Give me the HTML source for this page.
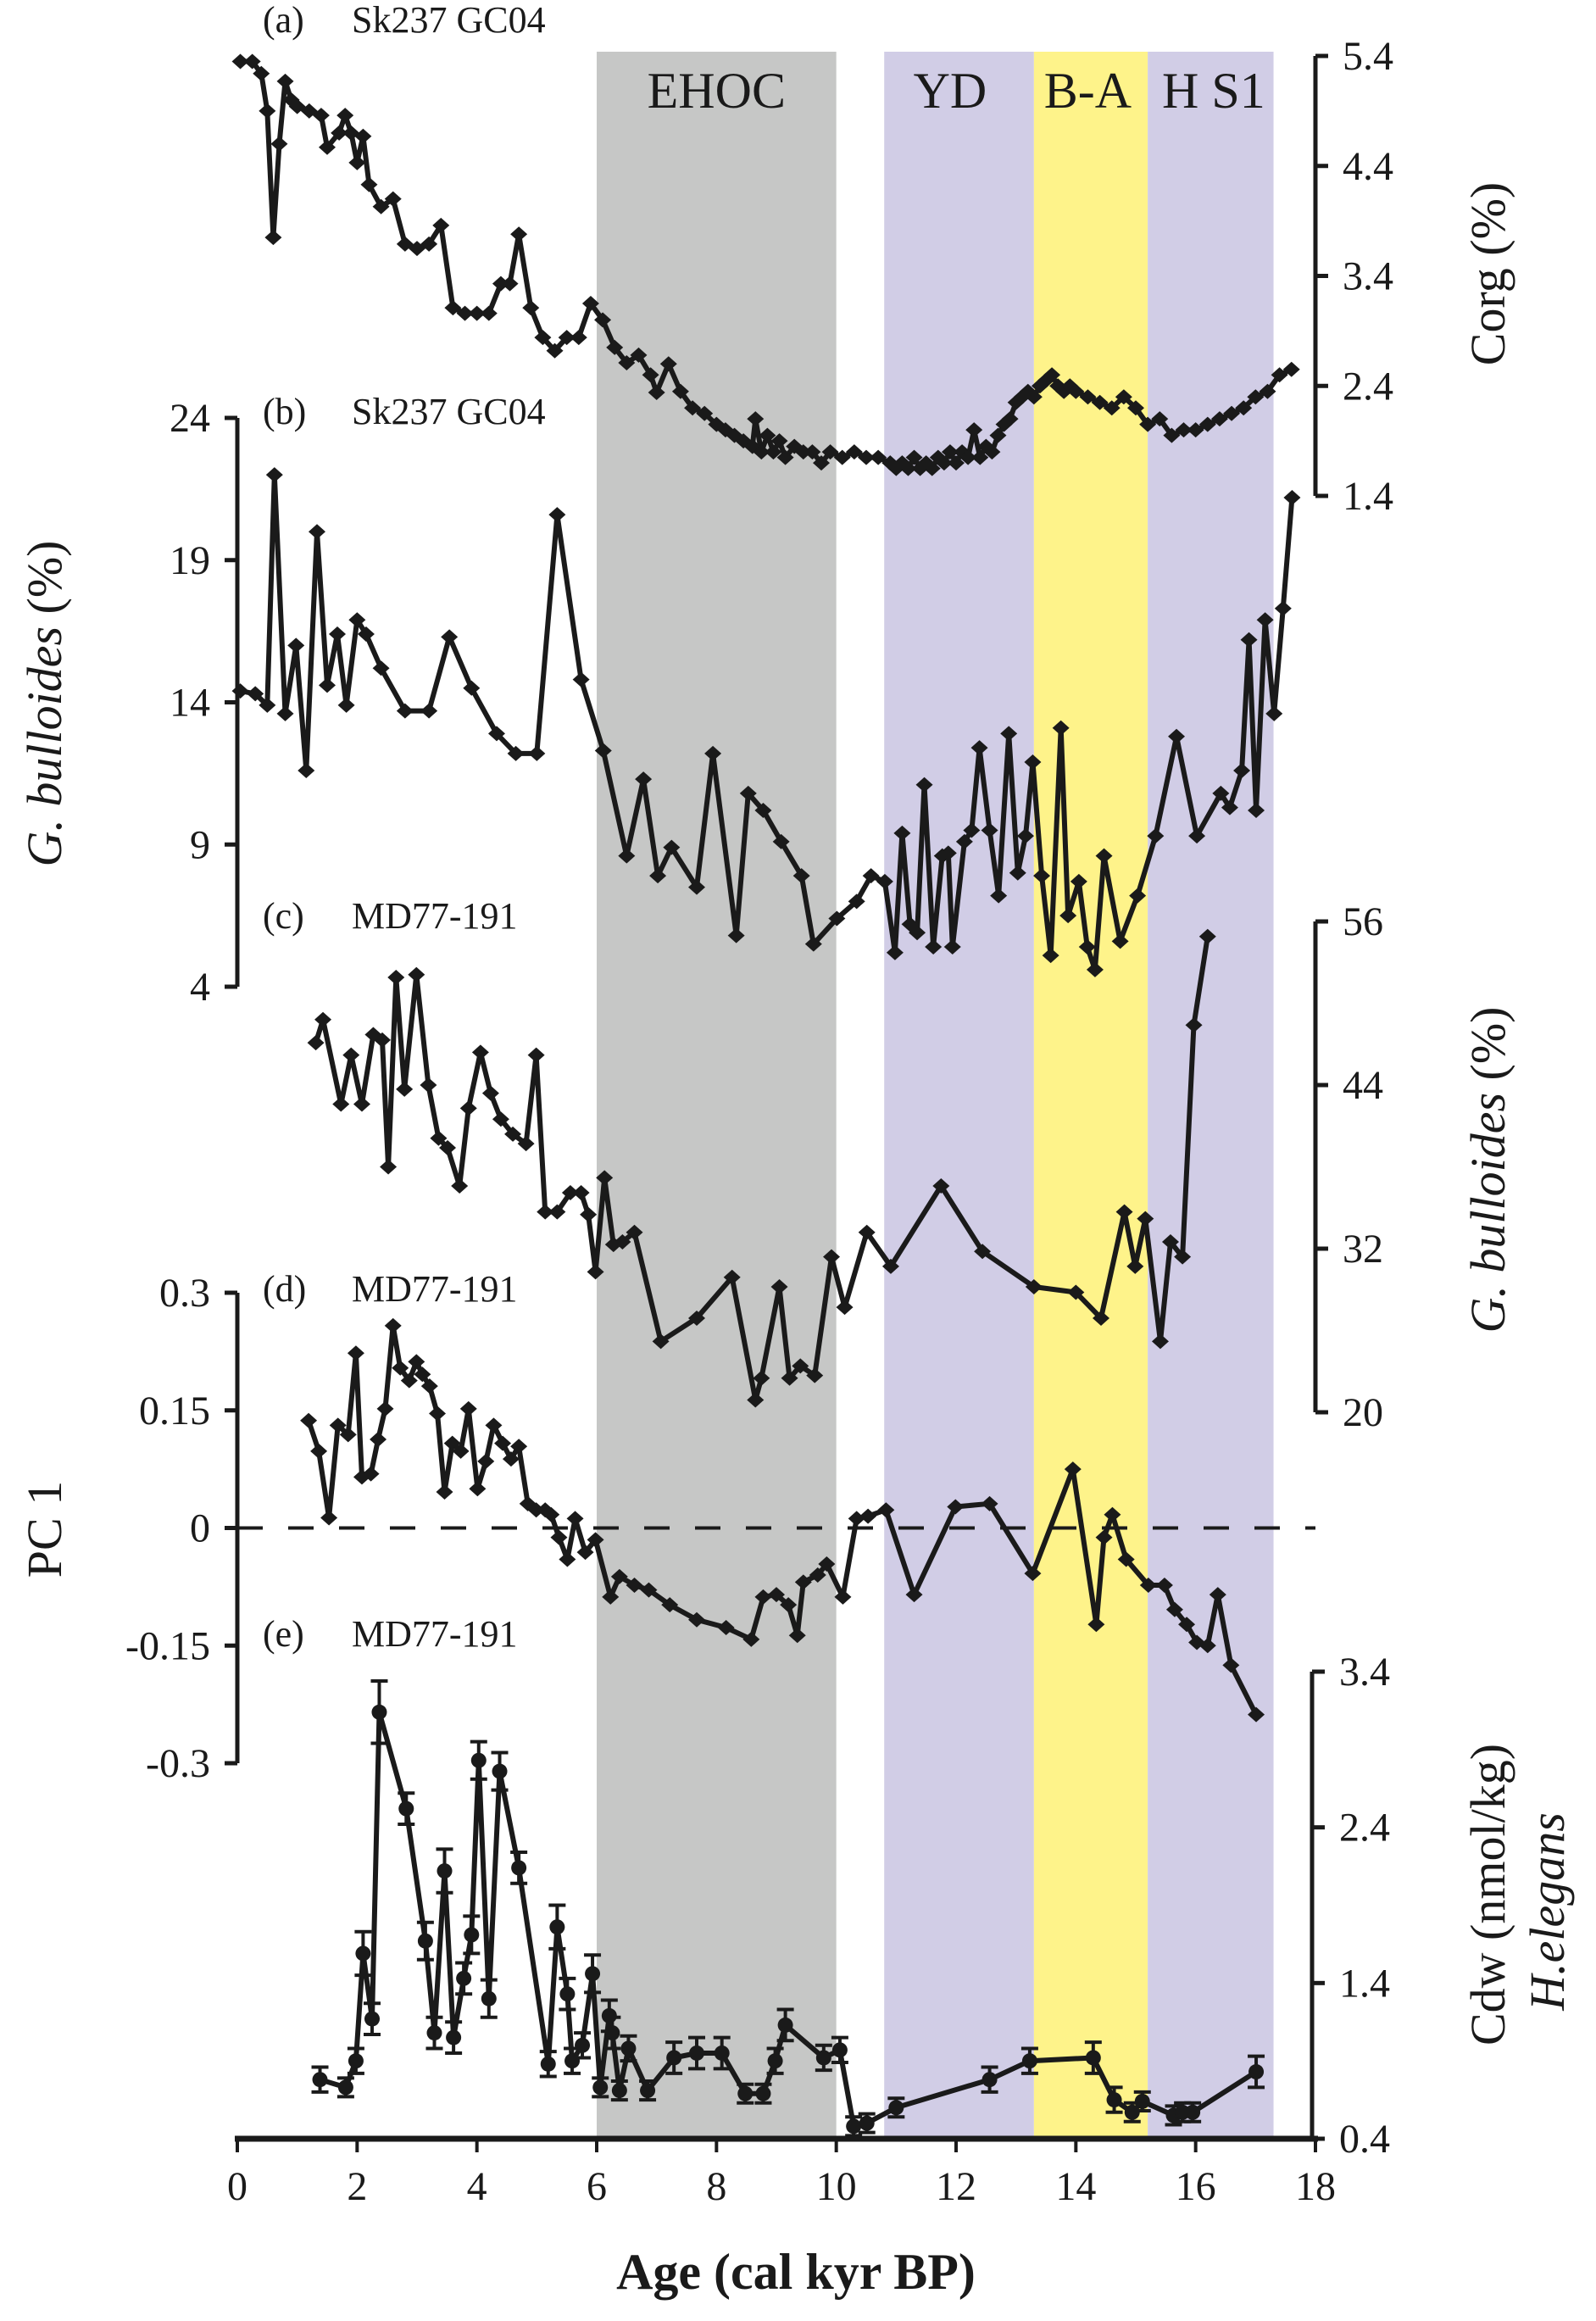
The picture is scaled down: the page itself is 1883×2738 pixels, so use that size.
<!DOCTYPE html>
<html><head><meta charset="utf-8"><style>
html,body{margin:0;padding:0;background:#fff;}
svg{display:block;font-family:"Liberation Serif","Times New Roman",serif;}
text{font-family:"Liberation Serif","Times New Roman",serif;}
</style></head><body>
<svg id="chart" width="1883" height="2738" viewBox="0 0 1883 2738" xmlns="http://www.w3.org/2000/svg" font-family="Liberation Serif, serif"></svg>
<script>
// ---- data ----
const xTicks = [0,2,4,6,8,10,12,14,16,18];
const bandNames = ["EHOC","YD","B-A","H S1"];
const bandStart = [6.0,10.8,13.3,15.2];
const bandEnd = [10.0,13.3,15.2,17.3];
const bandLabelAge = [8.0,11.9,14.2,16.3];

const corgTicks = [5.4,4.4,3.4,2.4,1.4];
const corgAge = [0.05,0.25,0.4,0.5,0.6,0.7,0.8,0.9,1.0,1.2,1.4,1.5,1.7,1.8,1.9,2.0,2.1,2.2,2.4,2.6,2.8,3.0,3.2,3.4,3.6,3.8,4.0,4.2,4.4,4.55,4.7,4.9,5.1,5.3,5.5,5.7,5.9,6.1,6.3,6.5,6.7,6.9,7.0,7.2,7.4,7.6,7.8,8.0,8.15,8.3,8.45,8.6,8.65,8.75,8.85,8.95,9.05,9.15,9.3,9.45,9.6,9.75,9.9,10.1,10.3,10.5,10.7,10.9,11.0,11.1,11.2,11.3,11.4,11.5,11.6,11.7,11.8,11.9,12.0,12.1,12.2,12.3,12.4,12.5,12.6,12.7,12.8,12.9,13.0,13.1,13.2,13.3,13.4,13.5,13.6,13.7,13.8,13.9,14.0,14.2,14.4,14.6,14.8,15.0,15.2,15.4,15.6,15.8,16.0,16.2,16.4,16.6,16.8,17.0,17.2,17.4,17.6];
const corgVal = [5.35,5.35,5.24,4.9,3.75,4.6,5.17,5.0,4.94,4.9,4.86,4.57,4.7,4.86,4.7,4.43,4.67,4.23,4.03,4.1,3.69,3.65,3.69,3.86,3.11,3.06,3.06,3.06,3.33,3.33,3.78,3.11,2.84,2.72,2.84,2.84,3.15,3.0,2.75,2.61,2.68,2.5,2.34,2.6,2.35,2.2,2.15,2.05,2.0,1.95,1.9,1.85,2.1,1.8,1.95,1.8,1.9,1.75,1.85,1.8,1.8,1.7,1.8,1.75,1.8,1.75,1.75,1.7,1.65,1.7,1.65,1.75,1.65,1.7,1.65,1.75,1.7,1.8,1.7,1.8,1.75,2.0,1.75,1.85,1.8,1.95,2.05,2.1,2.25,2.3,2.35,2.3,2.4,2.45,2.5,2.4,2.35,2.4,2.35,2.3,2.25,2.2,2.3,2.2,2.05,2.1,1.95,2.0,2.0,2.05,2.1,2.15,2.2,2.3,2.35,2.5,2.55];

const gbTicks = [24,19,14,9,4];
const gbAge = [0.05,0.3,0.5,0.62,0.8,0.98,1.15,1.33,1.5,1.67,1.82,2.0,2.15,2.4,2.8,3.2,3.54,3.91,4.33,4.65,5.0,5.34,5.74,6.11,6.50,6.78,7.02,7.25,7.67,7.94,8.33,8.53,8.78,9.08,9.42,9.62,10.01,10.34,10.58,10.81,10.98,11.10,11.23,11.35,11.47,11.62,11.77,11.87,11.94,12.14,12.26,12.39,12.56,12.71,12.88,13.03,13.16,13.28,13.43,13.58,13.75,13.87,14.05,14.19,14.32,14.47,14.74,15.03,15.33,15.68,16.02,16.42,16.57,16.77,16.89,17.01,17.16,17.31,17.46,17.61];
const gbVal = [14.4,14.3,13.9,22.0,13.6,16.0,11.6,20.0,14.6,16.4,13.9,16.9,16.4,15.2,13.7,13.7,16.3,14.5,12.9,12.2,12.2,20.6,14.8,12.3,8.6,11.3,7.9,8.9,7.5,12.2,5.8,10.8,10.2,9.1,7.9,5.5,6.4,7.0,7.9,7.7,5.2,9.4,6.2,5.9,11.1,5.4,8.6,8.7,5.4,9.1,9.5,12.4,9.5,7.2,12.9,8.0,9.3,11.9,7.9,5.1,13.1,6.5,7.7,5.4,4.6,8.6,5.6,7.2,9.3,12.8,9.3,10.8,10.3,11.6,16.2,10.2,16.9,13.6,17.3,21.2];

const mdTicks = [56,44,32,20];
const mdAge = [1.31,1.43,1.73,1.90,2.08,2.27,2.42,2.52,2.65,2.79,2.99,3.19,3.36,3.51,3.71,3.86,4.06,4.23,4.40,4.60,4.82,4.99,5.14,5.34,5.56,5.74,5.86,5.98,6.13,6.28,6.43,6.63,7.07,7.67,8.26,8.65,8.75,9.05,9.22,9.40,9.64,9.92,10.14,10.51,10.91,11.75,12.44,13.30,14.0,14.42,14.81,14.99,15.16,15.41,15.58,15.78,15.97,16.20];
const mdVal = [47.1,48.8,42.6,46.2,42.6,47.7,47.3,38.0,51.9,43.7,52.1,44.0,40.1,39.4,36.6,42.3,46.4,43.4,41.5,40.4,39.7,46.2,34.7,34.7,36.1,36.1,34.5,30.3,37.2,32.3,32.5,33.2,25.2,26.9,29.9,20.9,22.5,29.2,22.5,23.4,22.7,31.4,27.7,33.2,30.7,36.6,31.8,29.2,28.8,26.9,34.7,30.7,34.2,25.2,32.5,31.4,48.4,54.9];

const pcTicks = [0.3,0.15,0,-0.15,-0.3];
const pcTickLabels = ["0.3","0.15","0","-0.15","-0.3"];
const pcAge = [1.19,1.36,1.53,1.68,1.85,1.98,2.08,2.23,2.35,2.47,2.60,2.72,2.87,2.99,3.09,3.21,3.34,3.46,3.59,3.73,3.86,4.01,4.15,4.28,4.43,4.57,4.70,4.85,4.99,5.14,5.24,5.37,5.51,5.64,5.81,5.98,6.23,6.38,6.63,6.87,7.22,7.67,8.16,8.58,8.78,9.0,9.2,9.35,9.45,9.69,9.84,10.11,10.34,10.53,10.83,11.30,11.99,12.56,13.28,13.95,14.34,14.47,14.61,14.84,15.21,15.48,15.65,15.85,16.02,16.20,16.37,16.59,17.01];
const pcVal = [0.137,0.098,0.013,0.131,0.119,0.223,0.065,0.069,0.113,0.152,0.258,0.204,0.188,0.212,0.196,0.181,0.146,0.046,0.108,0.098,0.152,0.050,0.085,0.131,0.108,0.088,0.104,0.031,0.023,0.023,0.017,-0.012,-0.040,0.012,-0.031,-0.015,-0.088,-0.062,-0.073,-0.079,-0.098,-0.117,-0.127,-0.142,-0.088,-0.085,-0.098,-0.137,-0.069,-0.060,-0.046,-0.088,0.012,0.015,0.023,-0.085,0.027,0.031,-0.058,0.075,-0.123,-0.012,0.017,-0.040,-0.073,-0.073,-0.104,-0.123,-0.146,-0.150,-0.085,-0.175,-0.238];

const cdTicks = [3.4,2.4,1.4,0.4];
const cdAge = [1.38,1.81,1.98,2.10,2.25,2.37,2.82,3.14,3.29,3.46,3.61,3.78,3.91,4.03,4.20,4.38,4.70,5.19,5.34,5.51,5.59,5.76,5.93,6.06,6.21,6.26,6.38,6.53,6.85,7.29,7.67,8.09,8.48,8.78,8.98,9.15,9.79,10.06,10.29,10.51,11.0,12.56,13.23,14.29,14.64,14.94,15.11,15.63,15.78,15.95,17.01];
const cdVal = [0.78,0.73,0.90,1.59,1.17,3.14,2.52,1.67,1.08,2.12,1.05,1.43,1.71,2.83,1.30,2.76,2.14,0.88,1.76,1.33,0.90,1.00,1.46,0.73,1.19,1.08,0.71,0.98,0.71,0.92,0.95,0.95,0.69,0.69,0.90,1.13,0.92,0.97,0.48,0.50,0.60,0.78,0.90,0.92,0.65,0.57,0.64,0.55,0.57,0.57,0.83];
const cdErr = [0.08,0.06,0.08,0.14,0.1,0.2,0.1,0.12,0.1,0.14,0.1,0.1,0.12,0.12,0.12,0.12,0.1,0.08,0.14,0.1,0.08,0.08,0.12,0.06,0.1,0.1,0.06,0.08,0.06,0.1,0.1,0.1,0.06,0.06,0.08,0.1,0.08,0.08,0.06,0.06,0.06,0.08,0.08,0.1,0.08,0.06,0.06,0.06,0.06,0.06,0.1];

// ---- axis functions ----
const X0 = 280, X1 = 1552, YB = 2523;
const FONT = '"Liberation Serif", "Times New Roman", serif';
const xS = a => X0 + a * (X1 - X0) / 18;
const yA = v => 66 + (5.4 - v) / 4 * 519;
const yB = v => 493 + (24 - v) / 20 * 671;
const yC = v => 1087 + (56 - v) / 36 * 579;
const yD = v => 1525 + (0.3 - v) / 0.6 * 555;
const yE = v => 1972 + (3.4 - v) / 3 * 551;

const NS = "http://www.w3.org/2000/svg";
const svg = document.getElementById("chart");
function mk(tag, attrs, parent) {
  const e = document.createElementNS(NS, tag);
  for (const k in attrs) e.setAttribute(k, attrs[k]);
  (parent || svg).appendChild(e);
  return e;
}
function txt(s, attrs, parent) { attrs["font-family"] = FONT; const t = mk("text", attrs, parent); t.textContent = s; return t; }

// bands
const bandColors = ["#c6c7c6","#d1cde6","#fef38a","#d1cde6"];
const gBands = mk("g", {});


bandNames.forEach((n, i) => {
  const r = mk("rect", {x: xS(bandStart[i]), y: 61, width: xS(bandEnd[i]) - xS(bandStart[i]), height: YB - 61, fill: bandColors[i]}, gBands);
  
  
  const t = txt(n, {x: xS(bandLabelAge[i]), y: 127, "font-size": 60, "text-anchor": "middle", fill: "#1a1a1a"}, gBands);
  
  
});

// zero dashed line
const zl = mk("line", {x1: X0, x2: 1552, y1: yD(0), y2: yD(0), stroke: "#1a1a1a", "stroke-width": 4, "stroke-dasharray": "30 30"});



// axes
function vAxis(name, x, ticks, labels, yf, side) {
  const g = mk("g", {});
  
  
  const ys = ticks.map(yf);
  mk("line", {x1: x, x2: x, y1: Math.min(...ys), y2: Math.max(...ys), stroke: "#1a1a1a", "stroke-width": 5}, g);
  ticks.forEach((t, i) => {
    const dx = side === "left" ? -15 : 15;
    mk("line", {x1: x, x2: x + dx, y1: ys[i], y2: ys[i], stroke: "#1a1a1a", "stroke-width": 5}, g);
    const lab = txt(labels[i], {x: side === "left" ? x - 32 : x + 32, y: ys[i] + 16, "font-size": 48, "text-anchor": side === "left" ? "end" : "start", fill: "#1a1a1a"}, g);
    
    
  });
  return g;
}
vAxis("corg-axis", X1, corgTicks, corgTicks.map(v => v.toFixed(1)), yA, "right");
vAxis("gbulloides-sk237-axis", X0, gbTicks, gbTicks.map(String), yB, "left");
vAxis("gbulloides-md77-axis", X1, mdTicks, mdTicks.map(String), yC, "right");
vAxis("pc1-axis", X0, pcTicks, pcTickLabels, yD, "left");
vAxis("cdw-axis", X1 - 4, cdTicks, cdTicks.map(v => v.toFixed(1)), yE, "right");

// x axis
const gx = mk("g", {});


mk("line", {x1: X0 - 3, x2: X1 + 3, y1: YB, y2: YB, stroke: "#1a1a1a", "stroke-width": 7}, gx);
xTicks.forEach(t => {
  mk("line", {x1: xS(t), x2: xS(t), y1: YB, y2: YB + 16, stroke: "#1a1a1a", "stroke-width": 4}, gx);
  const l = txt(String(t), {x: xS(t), y: YB + 72, "font-size": 48, "text-anchor": "middle", fill: "#1a1a1a"}, gx);
  
  
});
const xt = txt("Age (cal kyr BP)", {x: 939, y: 2700, "font-size": 60, "font-weight": "bold", "text-anchor": "middle", fill: "#1a1a1a"});



// axis titles
function vTitle(name, parts, x, y) {
  const t = mk("text", {transform: `translate(${x},${y}) rotate(-90)`, "font-size": 58, "text-anchor": "middle", fill: "#1a1a1a", "font-family": FONT});
  
  
  parts.forEach(p => { const s = mk("tspan", p[1] ? {"font-style": "italic"} : {}, t); s.textContent = p[0]; });
}
vTitle("corg-axis-title", [["Corg (%)", false]], 1775, 323);
vTitle("gbulloides-left-axis-title", [["G. bulloides", true], [" (%)", false]], 72, 830);
vTitle("gbulloides-right-axis-title", [["G. bulloides", true], [" (%)", false]], 1775, 1380);
vTitle("pc1-axis-title", [["PC 1", false]], 72, 1804);
vTitle("cdw-axis-title", [["Cdw (nmol/kg)", false]], 1775, 2235);
vTitle("h-elegans-axis-title", [["H.elegans", true]], 1845, 2255);

// panel labels
const panelLabels = [["(a)","Sk237 GC04",38],["(b)","Sk237 GC04",500],["(c)","MD77-191",1095],["(d)","MD77-191",1535],["(e)","MD77-191",1942]];
panelLabels.forEach(p => {
  const a = txt(p[0], {x: 310, y: p[2], "font-size": 44, fill: "#1a1a1a"});
  
  
  const b = txt(p[1], {x: 415, y: p[2], "font-size": 44, fill: "#1a1a1a"});
  
  
});

// series
function series(name, ages, vals, yf, marker) {
  const g = mk("g", {});
  
  
  const pts = ages.map((a, i) => xS(a).toFixed(1) + "," + yf(vals[i]).toFixed(1)).join(" ");
  mk("polyline", {points: pts, fill: "none", stroke: "#1a1a1a", "stroke-width": 6, "stroke-linejoin": "round"}, g);
  ages.forEach((a, i) => {
    const x = xS(a), y = yf(vals[i]);
    let m;
    if (marker === "circle") m = mk("circle", {cx: x, cy: y, r: 9, fill: "#1a1a1a"}, g);
    else m = mk("polygon", {points: `${x},${y-9} ${x+10},${y} ${x},${y+9} ${x-10},${y}`, fill: "#1a1a1a"}, g);
    
    
  });
  return g;
}
// error bars for (e)
const gErr = mk("g", {});


cdAge.forEach((a, i) => {
  const x = xS(a), y1 = yE(cdVal[i] + cdErr[i]), y2 = yE(cdVal[i] - cdErr[i]);
  mk("line", {x1: x, x2: x, y1: y1, y2: y2, stroke: "#1a1a1a", "stroke-width": 4}, gErr);
  mk("line", {x1: x - 10, x2: x + 10, y1: y1, y2: y1, stroke: "#1a1a1a", "stroke-width": 4}, gErr);
  mk("line", {x1: x - 10, x2: x + 10, y1: y2, y2: y2, stroke: "#1a1a1a", "stroke-width": 4}, gErr);
});
series("corg-series", corgAge, corgVal, yA, "diamond");
series("gbulloides-sk237-series", gbAge, gbVal, yB, "diamond");
series("gbulloides-md77-series", mdAge, mdVal, yC, "diamond");
series("pc1-series", pcAge, pcVal, yD, "diamond");
series("cdw-series", cdAge, cdVal, yE, "circle");
</script>
</body></html>
